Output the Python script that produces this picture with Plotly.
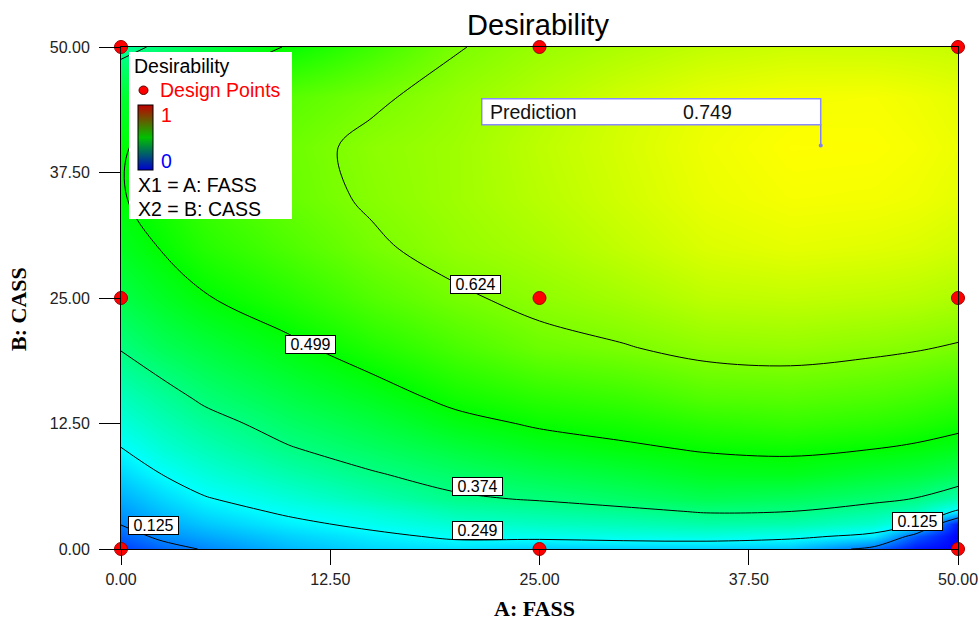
import plotly.graph_objects as go

# ---------------- data ----------------
A_VALUES = [0, 2.5, 5, 10, 15, 20, 25, 30, 35, 40, 45, 47.5, 50]          # A: FASS
B_VALUES = [0, 1.25, 2.5, 3.75, 5, 7.5, 10, 12.5, 15, 20, 25, 30, 35, 40, 45, 50]  # B: CASS

# desirability along B for each A column (estimated from contours / colours)
D_A0    = [0.06, 0.095, 0.128, 0.15, 0.17, 0.21, 0.248, 0.283, 0.315, 0.378, 0.43, 0.47, 0.495, 0.494, 0.45, 0.35]
D_A2_5  = [0.10, 0.14, 0.165, 0.19, 0.21, 0.252, 0.29, 0.32, 0.35, 0.415, 0.465, 0.503, 0.525, 0.52, 0.49, 0.39]
D_A5    = [0.13, 0.165, 0.195, 0.222, 0.245, 0.285, 0.32, 0.352, 0.385, 0.44, 0.495, 0.535, 0.56, 0.56, 0.53, 0.43]
D_A10   = [0.18, 0.205, 0.235, 0.26, 0.285, 0.33, 0.37, 0.40, 0.43, 0.485, 0.535, 0.575, 0.60, 0.605, 0.585, 0.505]
D_A15   = [0.21, 0.235, 0.265, 0.29, 0.325, 0.37, 0.405, 0.437, 0.47, 0.53, 0.58, 0.615, 0.632, 0.637, 0.615, 0.56]
D_A20   = [0.22, 0.26, 0.295, 0.33, 0.365, 0.40, 0.44, 0.48, 0.515, 0.57, 0.615, 0.645, 0.655, 0.655, 0.645, 0.62]
D_A25   = [0.20, 0.265, 0.31, 0.345, 0.38, 0.425, 0.47, 0.507, 0.54, 0.605, 0.64, 0.665, 0.68, 0.685, 0.675, 0.65]
D_A30   = [0.20, 0.275, 0.32, 0.36, 0.40, 0.445, 0.49, 0.52, 0.555, 0.62, 0.66, 0.69, 0.705, 0.71, 0.705, 0.67]
D_A35   = [0.20, 0.28, 0.335, 0.38, 0.42, 0.47, 0.505, 0.54, 0.58, 0.64, 0.685, 0.715, 0.73, 0.735, 0.728, 0.69]
D_A40   = [0.19, 0.265, 0.33, 0.375, 0.41, 0.475, 0.51, 0.55, 0.585, 0.645, 0.69, 0.725, 0.742, 0.749, 0.74, 0.70]
D_A45   = [0.10, 0.23, 0.30, 0.345, 0.39, 0.45, 0.50, 0.54, 0.575, 0.635, 0.685, 0.72, 0.74, 0.748, 0.742, 0.70]
D_A47_5 = [0.02, 0.09, 0.25, 0.32, 0.372, 0.44, 0.49, 0.53, 0.565, 0.628, 0.68, 0.715, 0.735, 0.742, 0.735, 0.698]
D_A50   = [0.0, 0.0, 0.02, 0.24, 0.33, 0.42, 0.475, 0.515, 0.55, 0.618, 0.67, 0.705, 0.725, 0.732, 0.725, 0.695]

COLUMNS = [D_A0, D_A2_5, D_A5, D_A10, D_A15, D_A20, D_A25, D_A30, D_A35, D_A40, D_A45, D_A47_5, D_A50]
Z = [[col[i] for col in COLUMNS] for i in range(len(B_VALUES))]

CONTOUR_LEVELS = [0.125, 0.249, 0.374, 0.499, 0.624]

DESIGN_A = [0, 0, 0, 25, 25, 25, 50, 50, 50]
DESIGN_B = [0, 25, 50, 0, 25, 50, 0, 25, 50]

PRED_A, PRED_B, PRED_VALUE = 41.8, 40.2, 0.749

TICKS = [0, 12.5, 25, 37.5, 50]
TICK_TEXT = ["0.00", "12.50", "25.00", "37.50", "50.00"]

# ---------------- layout helpers ----------------
W, H = 979, 621
PL, PT, PW, PH = 121, 47, 837, 502      # plot area in window pixels


def px(x):
    """window pixel x -> paper fraction"""
    return (x - PL) / PW


def py(y):
    """window pixel y -> paper fraction"""
    return (PT + PH - y) / PH


SANS = "Liberation Sans, Arial, sans-serif"
SERIF = "Liberation Serif, Times New Roman, serif"

MAP_SCALE = [[0.0, "#0000ff"], [0.25, "#00ffff"], [0.5, "#00ff00"],
             [0.75, "#ffff00"], [1.0, "#ff0000"]]
LEGEND_SCALE = [[0.0, "#0000d0"], [0.5, "#00c000"], [1.0, "#c00000"]]

fig = go.Figure()

fig.add_trace(go.Heatmap(
    x=A_VALUES, y=B_VALUES, z=Z, zsmooth="best",
    colorscale=MAP_SCALE, zmin=0, zmax=1, showscale=False, hoverinfo="skip"))

step = (CONTOUR_LEVELS[-1] - CONTOUR_LEVELS[0]) / (len(CONTOUR_LEVELS) - 1)
fig.add_trace(go.Contour(
    x=A_VALUES, y=B_VALUES, z=Z,
    contours=dict(start=CONTOUR_LEVELS[0], end=CONTOUR_LEVELS[-1], size=step,
                  coloring="none", showlabels=False),
    line=dict(color="black", width=1), showscale=False, hoverinfo="skip"))

# design points
fig.add_trace(go.Scatter(
    x=DESIGN_A, y=DESIGN_B, mode="markers", cliponaxis=False,
    marker=dict(size=13, color="#ff0000", line=dict(color="#a00000", width=1)),
    hoverinfo="skip", showlegend=False))

# prediction point
fig.add_trace(go.Scatter(
    x=[PRED_A], y=[PRED_B], mode="markers",
    marker=dict(size=4, color="#7f7fff"), hoverinfo="skip", showlegend=False))

# dummy trace carrying the small legend colour bar
fig.add_trace(go.Scatter(
    x=[PRED_A], y=[PRED_B], mode="markers", hoverinfo="skip", showlegend=False,
    marker=dict(size=1, opacity=0, color=[0.5], cmin=0, cmax=1,
                colorscale=LEGEND_SCALE, showscale=True,
                colorbar=dict(x=px(138), xanchor="left", y=py(170), yanchor="bottom",
                              len=65, lenmode="pixels", thickness=15,
                              xpad=0, ypad=0, outlinewidth=1, outlinecolor="black",
                              showticklabels=False, ticks=""))))

shapes = []
annotations = []

# contour labels
LABEL_SPOTS = [(0, 1.94, 2.34), (0, 47.6, 2.74), (1, 21.3, 1.84),
               (2, 21.3, 6.2), (3, 11.3, 20.4), (4, 21.2, 26.3)]
for idx, lx, ly in LABEL_SPOTS:
    annotations.append(dict(
        x=lx, y=ly, xref="x", yref="y", showarrow=False,
        xanchor="center", yanchor="middle",
        text="\u00a0" + f"{CONTOUR_LEVELS[idx]:.3f}" + "\u00a0",
        font=dict(family=SANS, size=16, color="black"),
        bgcolor="white", bordercolor="black", borderwidth=1, borderpad=0))

# prediction flag
shapes.append(dict(type="line", xref="x", yref="y", x0=PRED_A, x1=PRED_A,
                   y0=PRED_B, y1=PRED_B + 2.1, line=dict(color="#7f7fff", width=1.5)))
shapes.append(dict(type="rect", xref="x", yref="y", x0=PRED_A - 20.25, x1=PRED_A,
                   y0=PRED_B + 2.05, y1=PRED_B + 4.65, fillcolor="white",
                   line=dict(color="#8a8aff", width=1.5), layer="above"))
annotations.append(dict(x=PRED_A - 19.9, y=PRED_B + 3.35, xref="x", yref="y",
                        xanchor="left", yanchor="middle", showarrow=False,
                        text="Prediction", font=dict(family=SANS, size=19.5, color="#111")))
annotations.append(dict(x=PRED_A - 8.35, y=PRED_B + 3.35, xref="x", yref="y",
                        xanchor="left", yanchor="middle", showarrow=False,
                        text=f"{PRED_VALUE:.3f}", font=dict(family=SANS, size=19.5, color="#111")))

# legend box
shapes.append(dict(type="rect", xref="paper", yref="paper", x0=px(129), x1=px(292),
                   y0=py(219), y1=py(52), fillcolor="white", line=dict(width=0), layer="above"))
shapes.append(dict(type="circle", xref="paper", yref="paper", x0=px(139), x1=px(148),
                   y0=py(94.5), y1=py(86), fillcolor="#ff0000",
                   line=dict(color="#600000", width=1), layer="above"))


def legend_text(x, y, text, color="black", size=19.5):
    annotations.append(dict(x=px(x), y=py(y), xref="paper", yref="paper",
                            xanchor="left", yanchor="middle", showarrow=False,
                            text=text, font=dict(family=SANS, size=size, color=color)))


legend_text(132, 66, "Desirability")
legend_text(158, 90, "Design Points", "#ff0000")
legend_text(159, 115, "1", "#ff0000")
legend_text(159, 161, "0", "#0000ff")
legend_text(136, 185, "X1 = A: FASS")
legend_text(136, 209, "X2 = B: CASS")

# axis titles
annotations.append(dict(x=px(534), y=py(608), xref="paper", yref="paper",
                        xanchor="center", yanchor="middle",
                        showarrow=False, text="A: FASS",
                        font=dict(family=SERIF, size=22, color="black", weight="bold")))
annotations.append(dict(x=px(18), y=py(309), xref="paper", yref="paper",
                        xanchor="center", yanchor="middle",
                        showarrow=False, text="B: CASS", textangle=-90,
                        font=dict(family=SERIF, size=22, color="black", weight="bold")))

axis_common = dict(range=[0, 50], tickvals=TICKS, ticktext=TICK_TEXT,
                   ticks="outside", tickcolor="black", tickwidth=1,
                   showline=True, linecolor="black", linewidth=1, mirror=True,
                   showgrid=False, zeroline=False,
                   tickfont=dict(family=SANS, size=16, color="#222"))

fig.update_layout(
    width=W, height=H, autosize=False,
    margin=dict(l=PL, r=W - PL - PW, t=PT, b=H - PT - PH, autoexpand=False),
    paper_bgcolor="white", plot_bgcolor="white",
    showlegend=False, hovermode=False,
    title=dict(text="Desirability", x=px(538), xref="paper", xanchor="center",
               y=1 - 25 / H, yref="container", yanchor="middle",
               font=dict(family=SANS, size=29, color="black")),
    xaxis=dict(**axis_common, ticklen=15, ticklabelstandoff=1),
    yaxis=dict(**axis_common, ticklen=21, ticklabelstandoff=6),
    shapes=shapes, annotations=annotations,
)

# remove the default 8 px page margin so the figure fills the window exactly
fig.write_html("out.html",
               config={"displayModeBar": False, "staticPlot": True},
               post_script="document.body.style.margin='0';"
                           "document.body.style.overflow='hidden';")
